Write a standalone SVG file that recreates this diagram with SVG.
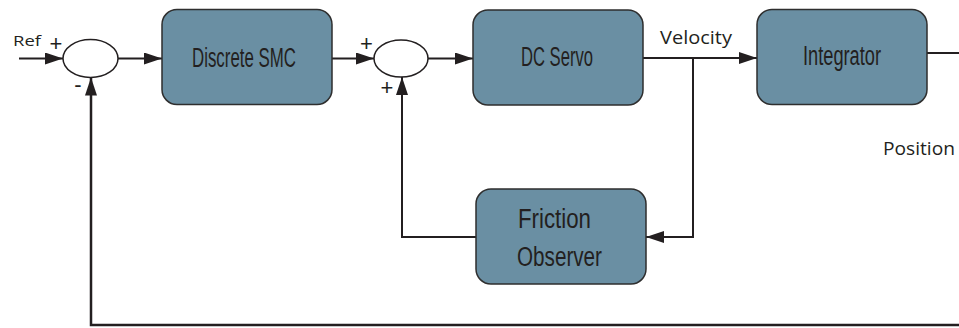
<svg xmlns="http://www.w3.org/2000/svg" width="959" height="328" viewBox="0 0 959 328">
<style>
.box{fill:#6a8fa3;stroke:#2e2e2e;stroke-width:1.5}
.sum{fill:#ffffff;stroke:#231f20;stroke-width:1.5}
.ln{fill:none;stroke:#231f20;stroke-width:2}
.bl{font-family:"Liberation Sans",Arial,sans-serif;font-size:27px;fill:#231f20}
.lb{font-family:"Open Sans","Liberation Sans",sans-serif;fill:#231f20}
.sg{font-family:"Liberation Sans",Arial,sans-serif;font-size:22px;fill:#231f20;text-anchor:middle}
</style>
<defs>
<marker id="ah" viewBox="0 0 18 12" refX="18" refY="6" markerWidth="18" markerHeight="12" markerUnits="userSpaceOnUse" orient="auto">
<path d="M0,0 L18,6 L0,12 Z" fill="#231f20"/>
</marker>
</defs>
<g id="connectors">
<line class="ln" x1="19" y1="58.5" x2="63" y2="58.5" marker-end="url(#ah)"/>
<line class="ln" x1="118" y1="58.5" x2="162" y2="58.5" marker-end="url(#ah)"/>
<line class="ln" x1="332" y1="58.5" x2="374" y2="58.5" marker-end="url(#ah)"/>
<line class="ln" x1="428" y1="58.5" x2="473" y2="58.5" marker-end="url(#ah)"/>
<line class="ln" x1="643" y1="58" x2="757" y2="58" marker-end="url(#ah)"/>
<polyline class="ln" points="693,58 693,237 646,237" marker-end="url(#ah)"/>
<polyline class="ln" points="476,237 402,237 402,77" marker-end="url(#ah)"/>
<line class="ln" x1="927" y1="53" x2="959" y2="53"/>
<polyline class="ln" points="959,325 91,325 91,77.5" style="stroke-width:2.5" marker-end="url(#ah)"/>
</g>
<g id="sum1">
<ellipse class="sum" cx="90.5" cy="58.5" rx="27.5" ry="19"/>
<text class="sg" x="56" y="50.5">+</text>
<text class="sg" x="78" y="92">-</text>
</g>
<g id="sum2">
<ellipse class="sum" cx="401" cy="58.5" rx="27" ry="18.5"/>
<text class="sg" x="366.5" y="50.5">+</text>
<text class="sg" x="387" y="95">+</text>
</g>
<g id="ref">
<text class="lb" x="13" y="46" style="font-size:14px" textLength="28" lengthAdjust="spacingAndGlyphs">Ref</text>
</g>
<g id="smc">
<rect class="box" x="162" y="9.5" width="170" height="95" rx="15"/>
<text class="bl" x="192" y="67" textLength="104" lengthAdjust="spacingAndGlyphs">Discrete SMC</text>
</g>
<g id="servo">
<rect class="box" x="473" y="10" width="170" height="95" rx="15"/>
<text class="bl" x="521" y="66" textLength="72" lengthAdjust="spacingAndGlyphs">DC Servo</text>
</g>
<g id="velocity">
<text class="lb" x="660" y="44" style="font-size:19px" textLength="72" lengthAdjust="spacingAndGlyphs">Velocity</text>
</g>
<g id="integrator">
<rect class="box" x="757" y="9.5" width="170" height="95" rx="15"/>
<text class="bl" x="803" y="65" textLength="78" lengthAdjust="spacingAndGlyphs">Integrator</text>
</g>
<g id="position">
<text class="lb" x="883" y="155" style="font-size:19px" textLength="72" lengthAdjust="spacingAndGlyphs">Position</text>
</g>
<g id="friction">
<rect class="box" x="476" y="189" width="170" height="95" rx="15"/>
<text class="bl" x="518" y="228" textLength="73" lengthAdjust="spacingAndGlyphs">Friction</text>
<text class="bl" x="517" y="266" textLength="85" lengthAdjust="spacingAndGlyphs">Observer</text>
</g>
</svg>
